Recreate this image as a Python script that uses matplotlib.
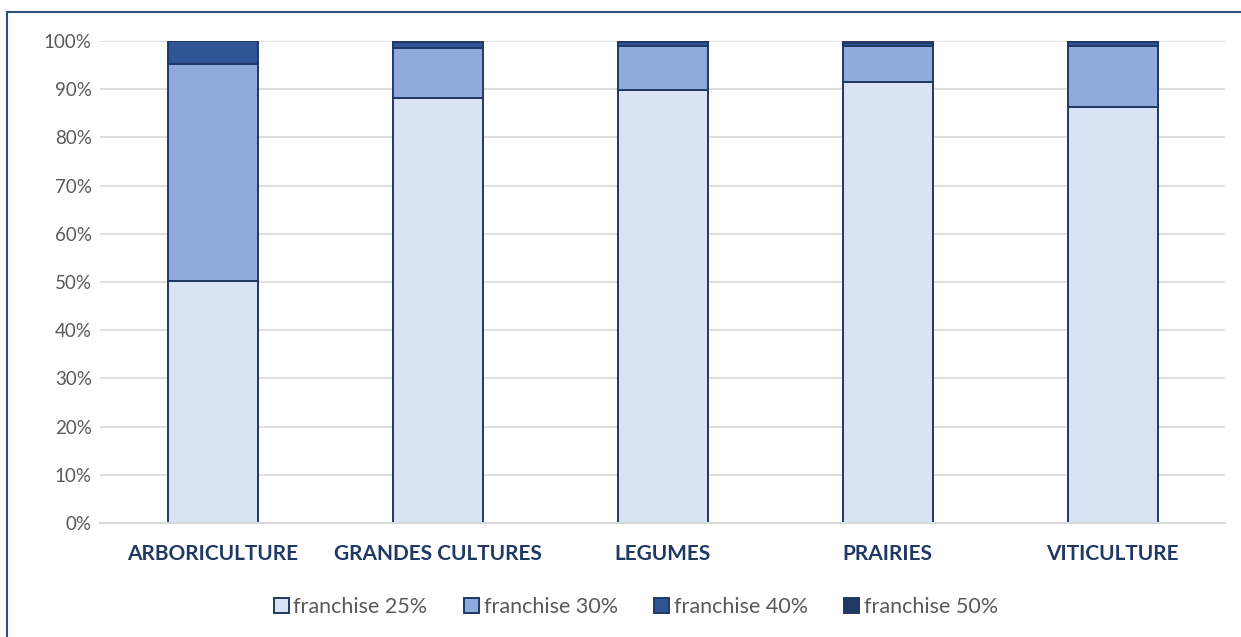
import numpy as np
import matplotlib.pyplot as plt
from matplotlib.patches import Rectangle

plt.rcParams['font.family'] = ['Lato', 'DejaVu Sans']

# données : part des surfaces par niveau de franchise
cultures = ['ARBORICULTURE', 'GRANDES CULTURES', 'LEGUMES', 'PRAIRIES', 'VITICULTURE']
franchise_25 = [50.3, 88.1, 89.8, 91.5, 86.3]
franchise_30 = [44.9, 10.4, 9.2, 7.5, 12.7]
franchise_40 = [4.8, 1.3, 0.8, 0.5, 0.8]
franchise_50 = [0.0, 0.2, 0.2, 0.3, 0.2]

series = [franchise_25, franchise_30, franchise_40, franchise_50]
noms = ['franchise 25%', 'franchise 30%', 'franchise 40%', 'franchise 50%']
couleurs = ['#dae3f3', '#8faadc', '#2f5597', '#203864']
bord = '#1f3864'

fig = plt.figure(figsize=(12.41, 6.37), dpi=100)
ax = fig.add_axes([100 / 1241, 1 - 523 / 637, 1125 / 1241, 482 / 637])

x = np.arange(len(cultures))
bas = np.zeros(len(cultures))
for vals, nom, c in zip(series, noms, couleurs):
    v = np.array(vals) / 100
    ax.bar(x, v, width=0.4, bottom=bas, color=c, edgecolor=bord,
           linewidth=1.4, label=nom, zorder=3)
    bas += v

ax.set_xlim(-0.5, 4.5)
ax.set_ylim(0, 1)
ax.set_yticks(np.arange(0, 1.01, 0.1))
ax.set_yticklabels([f'{int(round(t * 100))}%' for t in np.arange(0, 1.01, 0.1)])
ax.yaxis.grid(True, color='#d9d9d9', linewidth=1.2, zorder=0)
ax.tick_params(axis='y', length=0, labelsize=13.5, labelcolor='#595959', pad=6)
ax.set_xticks(x)
ax.set_xticklabels(cultures, fontsize=15, fontweight='bold', color='#1f3864')
ax.tick_params(axis='x', length=0, pad=15)
for s in ['top', 'right', 'left']:
    ax.spines[s].set_visible(False)
ax.spines['bottom'].set_color('#d9d9d9')
ax.spines['bottom'].set_linewidth(1.5)
ax.spines['bottom'].set_zorder(4)

leg = fig.legend(loc='center', bbox_to_anchor=(636 / 1241, 1 - 607 / 637), ncol=4,
                 frameon=False, fontsize=15.5, handlelength=0.7, handleheight=0.7,
                 handletextpad=0.2, columnspacing=1.7)
for t in leg.get_texts():
    t.set_color('#595959')

# cadre du graphique
fig.patches.append(Rectangle((7 / 1241, -0.1), 1.2, 1 - 12 / 637 + 0.1,
                             transform=fig.transFigure, fill=False,
                             edgecolor='#2f4f7f', linewidth=1.5))

fig.savefig('out.png', dpi=100)
